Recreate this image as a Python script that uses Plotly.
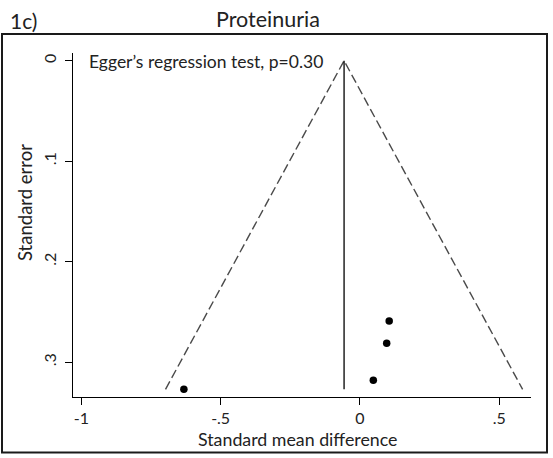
import plotly.graph_objects as go

# Data
smd = [0.105, 0.096, 0.048, -0.632]
se = [0.259, 0.281, 0.318, 0.327]
pooled = -0.057
x_ticks = [-1, -0.5, 0, 0.5]
x_ticklabels = ["-1", "-.5", "0", ".5"]
y_ticks = [0, 0.1, 0.2, 0.3]
y_ticklabels = ["0", ".1", ".2", ".3"]

W, H = 553, 458
L, R, T, B = 73, 22, 53, 61
pw, ph = W - L - R, H - T - B

def px(x):
    return (x - L) / pw

def py(y):
    return (H - B - y) / ph

se_max = max(se)
FONT = "Lato"

fig = go.Figure()
# funnel (pseudo 95% CI)
fig.add_trace(go.Scatter(
    x=[pooled - 1.96 * se_max, pooled, pooled + 1.96 * se_max],
    y=[se_max, 0, se_max],
    mode="lines", line=dict(color="#4a4a4a", width=1.4, dash="9px,4px"),
    hoverinfo="skip", showlegend=False))
# pooled estimate line
fig.add_trace(go.Scatter(
    x=[pooled, pooled], y=[0, se_max], mode="lines",
    line=dict(color="black", width=1.3), showlegend=False))
# studies
fig.add_trace(go.Scatter(
    x=smd, y=se, mode="markers",
    marker=dict(color="black", size=7.5), showlegend=False))

fig.update_layout(
    width=W, height=H,
    margin=dict(l=L, r=R, t=T, b=B),
    paper_bgcolor="white", plot_bgcolor="white",
    font=dict(family=FONT, color="black", size=15),
    xaxis=dict(range=[-1.030, 0.614], tickvals=x_ticks, ticktext=x_ticklabels,
               showgrid=False, zeroline=False, showline=True, linecolor="black",
               linewidth=1.3, ticks="outside", ticklen=7, tickcolor="black",
               tickwidth=1.3, tickfont=dict(size=16, family=FONT, color="#222222")),
    yaxis=dict(range=[0.3346, -0.0077], tickvals=y_ticks, ticktext=y_ticklabels,
               showgrid=False, zeroline=False, showline=True, linecolor="black",
               linewidth=1.3, ticks="outside", ticklen=7, tickcolor="black",
               tickwidth=1.3, tickangle=-90, ticklabelstandoff=2,
               tickfont=dict(size=16, family=FONT, color="#222222")),
    shapes=[dict(type="rect", xref="paper", yref="paper",
                 x0=px(2), x1=px(547), y0=py(452.5), y1=py(34),
                 line=dict(color="#1a1a1a", width=2))],
    annotations=[
        dict(text="Egger\u2019s regression test, p=0.30", xref="paper", yref="paper",
             x=px(87), y=py(61), xanchor="left", yanchor="middle", showarrow=False,
             font=dict(size=17.5, family=FONT, color="#222222")),
        dict(text="Proteinuria", xref="paper", yref="paper",
             x=px(268), y=py(19), xanchor="center", yanchor="middle", showarrow=False,
             font=dict(size=21.5, family=FONT, color="#222222")),
        dict(text="1c)", xref="paper", yref="paper",
             x=px(8), y=py(20), xanchor="left", yanchor="middle", showarrow=False,
             font=dict(size=21, family=FONT, color="#222222")),
        dict(text="Standard mean difference", xref="paper", yref="paper",
             x=px(297), y=py(439), xanchor="center", yanchor="middle", showarrow=False,
             font=dict(size=17.8, family=FONT, color="#222222")),
        dict(text="Standard error", xref="paper", yref="paper", textangle=-90,
             x=px(25), y=py(203), xanchor="center", yanchor="middle", showarrow=False,
             font=dict(size=18.5, family=FONT, color="#222222")),
    ],
)

fig.write_html("out.html", config={"displayModeBar": False},
               post_script="document.body.style.margin='0';document.body.style.overflow='hidden';")
